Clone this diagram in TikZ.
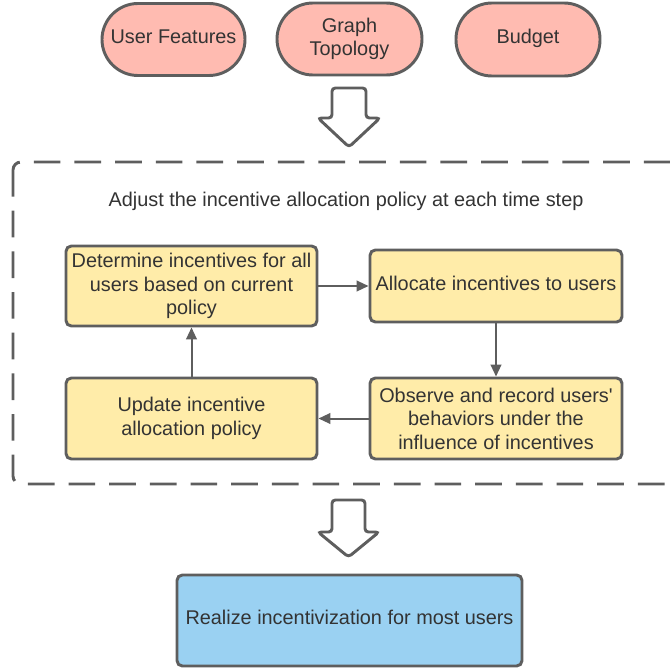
\documentclass[tikz,border=0pt]{standalone}
\usepackage{fontspec}
\setmainfont{Liberation Sans}[Ligatures=TeXOff]
\usetikzlibrary{arrows.meta}
\definecolor{edge}{HTML}{5E5E5E}
\definecolor{ink}{HTML}{333333}
\definecolor{pinkfill}{HTML}{FFBBB1}
\definecolor{yellowfill}{HTML}{FFECA9}
\definecolor{bluefill}{HTML}{9AD1F2}
\tikzset{
  basefont/.style={font=\fontsize{14.9}{17.6}\selectfont, text=ink},
  oneline/.style={text height=10.8pt, text depth=4.8pt},
  pill/.style={basefont, draw=edge, line width=2.2pt, fill=pinkfill,
    rounded corners=27pt, align=center, inner sep=0pt},
  stepbox/.style={basefont, draw=edge, line width=2.2pt, fill=yellowfill,
    rounded corners=4pt, align=center, inner sep=0pt},
  goalbox/.style={basefont, draw=edge, line width=2.2pt, fill=bluefill,
    rounded corners=4pt, align=center, inner sep=0pt},
  flow/.style={draw=edge, line width=1.5pt, -{Triangle[length=9pt,width=8pt]}},
  blockarrow/.style={draw=edge, line width=2.2pt, fill=white, rounded corners=2.5pt},
  loopframe/.style={draw=edge, line width=2.2pt, dash pattern=on 20pt off 10.5pt, rounded corners=6pt},
}
\begin{document}
\begin{tikzpicture}[x=0.75pt,y=-0.75pt]
  \clip (0,0) rectangle (670,667);
  \fill[white] (0,0) rectangle (670,667);

  % inputs
  \node[pill, oneline, minimum width=107.25pt, minimum height=54pt] (feat) at (173.5,39.5) {User Features};
  \node[pill, minimum width=108.75pt, minimum height=54pt] (topo) at (349.5,39) {Graph\\Topology};
  \node[pill, oneline, minimum width=108pt, minimum height=54.75pt] (budget) at (528,39.5) {Budget};

  % hollow arrow into the loop
  \draw[blockarrow] (332,88) -- (366,88) -- (366,118) -- (380,118) -- (349,147)
    -- (318,118) -- (332,118) -- cycle;

  % the adjustment loop
  \draw[loopframe] (13,162) rectangle (700,484);
  \node[basefont] (title) at (346,201) {Adjust the incentive allocation policy at each time step};

  \node[stepbox, minimum width=188.25pt, minimum height=60pt] (determine) at (191.5,286)
    {Determine incentives for all\\users based on current\\policy};
  \node[stepbox, oneline, minimum width=189pt, minimum height=54pt] (allocate) at (496,286)
    {Allocate incentives to users};
  \node[stepbox, minimum width=189pt, minimum height=60.75pt] (observe) at (496,418.5)
    {Observe and record users'\\behaviors under the\\influence of incentives};
  \node[stepbox, minimum width=188.25pt, minimum height=60.75pt] (update) at (191.5,418.5)
    {Update incentive\\allocation policy};

  \draw[flow] (determine.east) -- (allocate.west);
  \draw[flow] (allocate.south) -- (observe.north);
  \draw[flow] (observe.west) -- (update.east);
  \draw[flow] (update.north) -- (determine.south);

  % hollow arrow to the outcome
  \draw[blockarrow] (332,500) -- (365,500) -- (365,532) -- (379,532) -- (348.5,557)
    -- (318,532) -- (332,532) -- cycle;

  \node[goalbox, oneline, minimum width=258.75pt, minimum height=68.25pt] (goal) at (349.5,620.5)
    {Realize incentivization for most users};
\end{tikzpicture}
\end{document}
